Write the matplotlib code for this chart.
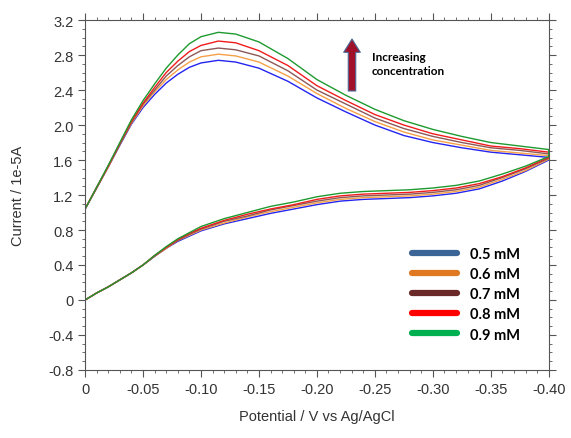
import numpy as np
import matplotlib
matplotlib.use('Agg')
import matplotlib.pyplot as plt
from matplotlib.lines import Line2D
from matplotlib.ticker import MultipleLocator

# forward scan (upper branch), 0 -> -0.40 V
e_fwd = [0, -0.01, -0.02, -0.03, -0.04, -0.05, -0.06, -0.07, -0.08, -0.09, -0.10, -0.115,
         -0.13, -0.15, -0.175, -0.20, -0.225, -0.25, -0.275, -0.30, -0.325, -0.35, -0.375, -0.40]
i_fwd_05 = [1.04, 1.28, 1.52, 1.77, 2.01, 2.20, 2.35, 2.48, 2.58, 2.66, 2.71, 2.74,
            2.72, 2.65, 2.50, 2.31, 2.15, 2.00, 1.88, 1.80, 1.74, 1.69, 1.66, 1.63]
i_fwd_06 = [1.04, 1.28, 1.52, 1.78, 2.02, 2.22, 2.38, 2.52, 2.63, 2.72, 2.78, 2.81,
            2.79, 2.72, 2.56, 2.36, 2.19, 2.04, 1.92, 1.83, 1.77, 1.71, 1.68, 1.65]
i_fwd_07 = [1.04, 1.28, 1.53, 1.78, 2.03, 2.24, 2.40, 2.56, 2.68, 2.78, 2.85, 2.88,
            2.86, 2.79, 2.62, 2.40, 2.24, 2.08, 1.96, 1.87, 1.80, 1.74, 1.71, 1.67]
i_fwd_08 = [1.04, 1.29, 1.53, 1.79, 2.04, 2.25, 2.43, 2.60, 2.73, 2.84, 2.91, 2.96,
            2.94, 2.85, 2.68, 2.45, 2.28, 2.12, 2.00, 1.90, 1.83, 1.76, 1.73, 1.69]
i_fwd_09 = [1.04, 1.29, 1.54, 1.80, 2.06, 2.28, 2.47, 2.65, 2.80, 2.93, 3.01, 3.06,
            3.04, 2.95, 2.76, 2.52, 2.34, 2.18, 2.05, 1.95, 1.87, 1.80, 1.76, 1.72]

# reverse scan (lower branch), listed from 0 to -0.40 V
e_rev = [0, -0.01, -0.02, -0.03, -0.04, -0.05, -0.06, -0.07, -0.08, -0.09, -0.10, -0.12, -0.14,
         -0.16, -0.18, -0.20, -0.22, -0.24, -0.26, -0.28, -0.30, -0.32, -0.34, -0.36, -0.38, -0.40]
i_rev_05 = [0.0, 0.08, 0.15, 0.23, 0.31, 0.40, 0.50, 0.59, 0.67, 0.73, 0.79, 0.87, 0.93,
            0.99, 1.04, 1.09, 1.13, 1.15, 1.16, 1.17, 1.19, 1.22, 1.27, 1.36, 1.47, 1.60]
i_rev_06 = [0.0, 0.08, 0.15, 0.23, 0.31, 0.40, 0.50, 0.59, 0.68, 0.74, 0.80, 0.88, 0.95,
            1.01, 1.06, 1.11, 1.15, 1.17, 1.18, 1.19, 1.21, 1.24, 1.29, 1.38, 1.48, 1.61]
i_rev_07 = [0.0, 0.08, 0.15, 0.23, 0.31, 0.40, 0.50, 0.60, 0.68, 0.75, 0.81, 0.90, 0.96,
            1.03, 1.08, 1.13, 1.17, 1.19, 1.20, 1.21, 1.23, 1.26, 1.31, 1.40, 1.50, 1.62]
i_rev_08 = [0.0, 0.08, 0.15, 0.23, 0.31, 0.40, 0.51, 0.60, 0.69, 0.76, 0.82, 0.91, 0.98,
            1.04, 1.09, 1.15, 1.19, 1.21, 1.22, 1.23, 1.25, 1.28, 1.33, 1.41, 1.51, 1.63]
i_rev_09 = [0.0, 0.08, 0.15, 0.23, 0.31, 0.40, 0.51, 0.61, 0.70, 0.77, 0.84, 0.93, 1.00,
            1.07, 1.12, 1.18, 1.22, 1.24, 1.25, 1.26, 1.28, 1.31, 1.36, 1.44, 1.53, 1.64]

labels = ['0.5 mM', '0.6 mM', '0.7 mM', '0.8 mM', '0.9 mM']
curve_colors = ['#2424f0', '#f5a048', '#8c5858', '#f01c1c', '#1f9a30']
legend_colors = ['#3b6497', '#e07a22', '#6a2828', '#ff0000', '#00b050']

y_ticks = [-0.8, -0.4, 0, 0.4, 0.8, 1.2, 1.6, 2.0, 2.4, 2.8, 3.2]
y_names = ['-0.8', '-0.4', '0', '0.4', '0.8', '1.2', '1.6', '2.0', '2.4', '2.8', '3.2']
x_ticks = [0, -0.05, -0.10, -0.15, -0.20, -0.25, -0.30, -0.35, -0.40]
x_names = ['0', '-0.05', '-0.10', '-0.15', '-0.20', '-0.25', '-0.30', '-0.35', '-0.40']


def main():
    plt.rcParams['font.family'] = ['Liberation Sans', 'DejaVu Sans']
    fig = plt.figure(figsize=(5.71, 4.39), dpi=100, facecolor='white')
    ax = fig.add_axes([0.149, 0.155, 0.812, 0.797])

    fwd = [i_fwd_05, i_fwd_06, i_fwd_07, i_fwd_08, i_fwd_09]
    rev = [i_rev_05, i_rev_06, i_rev_07, i_rev_08, i_rev_09]
    for f, r, c in zip(fwd, rev, curve_colors):
        x = list(e_fwd) + list(e_rev[::-1])
        y = list(f) + list(r[::-1])
        ax.plot(x, y, '-', c=c, lw=1.0)

    ax.set_xlim(0, -0.40)
    ax.set_ylim(-0.8, 3.2)
    ax.set_xticks(x_ticks)
    ax.set_xticklabels(x_names)
    ax.set_yticks(y_ticks)
    ax.set_yticklabels(y_names)
    ax.xaxis.set_minor_locator(MultipleLocator(0.01))
    ax.yaxis.set_minor_locator(MultipleLocator(0.1))
    ax.tick_params(which='both', direction='out', top=True, right=True,
                   color='#555555', labelsize=10.5, labelcolor='#333333')
    ax.tick_params(which='major', length=5, width=0.8)
    ax.tick_params(which='minor', length=2.5, width=0.6)
    for s in ax.spines.values():
        s.set_color('#555555')
        s.set_linewidth(0.8)

    ax.set_xlabel('Potential / V vs Ag/AgCl', fontsize=10.5, color='#333333')
    ax.set_ylabel('Current / 1e-5A', fontsize=10.5, color='#333333')
    ax.xaxis.set_label_coords(0.5, -0.112)
    ax.yaxis.set_label_coords(-0.13, 0.5)

    # arrow and note
    ax.annotate('', xy=(352 / 571, 1 - 40 / 439), xytext=(352 / 571, 1 - 92 / 439),
                xycoords='figure fraction', textcoords='figure fraction',
                arrowprops=dict(arrowstyle='simple,head_length=0.8,head_width=1.0,tail_width=0.45',
                                fc='#a01028', ec='#4a6a9a', lw=0.8, mutation_scale=12,
                                shrinkA=0, shrinkB=0))
    fig.text(372 / 571, 1 - 52 / 439, 'Increasing\nconcentration', fontsize=8.5,
             fontweight='bold', family='Lato', va='top', ha='left', linespacing=1.35)

    handles = [Line2D([0], [0], color=c, lw=4.5, solid_capstyle='round') for c in legend_colors]
    ax.legend(handles, labels, loc='upper left', bbox_to_anchor=(412 / 571, 1 - 248 / 439),
              bbox_transform=fig.transFigure, frameon=False, borderpad=0, borderaxespad=0,
              handlelength=3.1, handletextpad=0.9, labelspacing=0.42,
              prop={'family': 'Lato', 'weight': 'bold', 'size': 10.5})

    plt.savefig('out.png', dpi=100, facecolor='white')


if __name__ == '__main__':
    main()
